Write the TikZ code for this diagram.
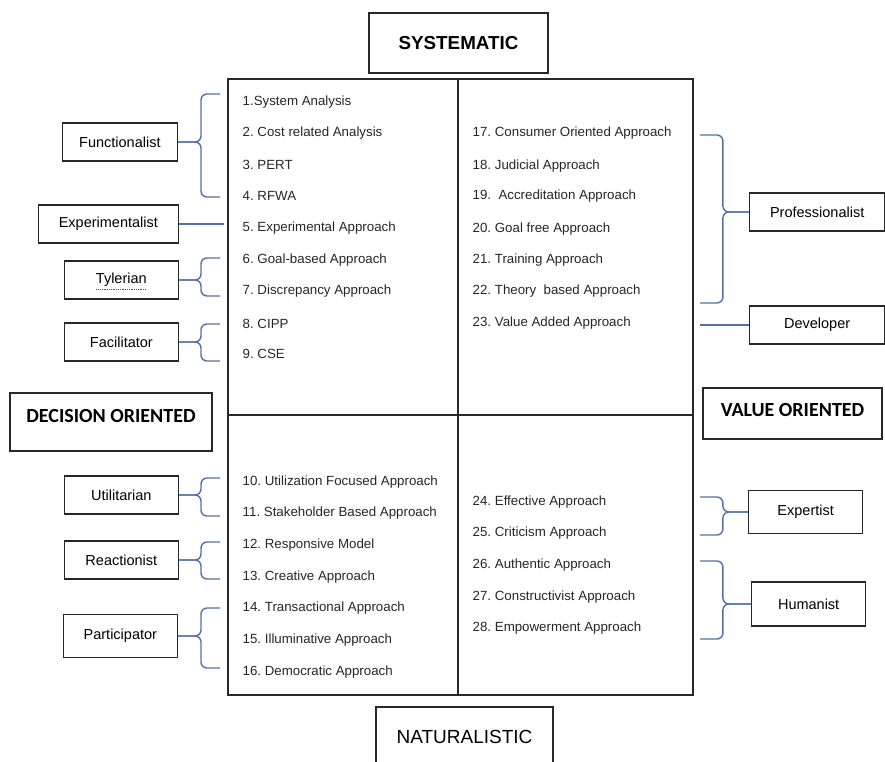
\documentclass[tikz,border=0pt]{standalone}
\usepackage{fontspec}
\setmainfont{Liberation Sans}
\newfontfamily\headfont{Carlito}
\usetikzlibrary{calc}
\definecolor{bracecol}{RGB}{84,112,170}
\definecolor{linecol}{RGB}{40,40,40}
\frenchspacing

\begin{document}
\begin{tikzpicture}[x=1pt, y=-1pt, line width=1.4pt,
  item/.style={anchor=west, inner sep=0pt, text=black!85, font=\fontsize{13.3}{15}\selectfont},
  role/.style={draw=linecol, line width=1.3pt, minimum width=114pt, minimum height=38pt, font=\fontsize{14.5}{17}\selectfont},
  head/.style={draw=linecol, line width=1.3pt, inner sep=0pt},
  cell/.style={draw=linecol, line width=1.8pt, inner sep=0pt},
  brace/.style={draw=bracecol, line width=1.4pt, rounded corners=6pt}]
  \useasboundingbox (0,0) rectangle (885,762);
  \clip (0,0) rectangle (885,762);

  % the four quadrants
  \node[cell, minimum width=230pt, minimum height=336pt] (q1) at (343,247) {};
  \node[cell, minimum width=235pt, minimum height=336pt] (q2) at (575.5,247) {};
  \node[cell, minimum width=230pt, minimum height=280pt] (q3) at (343,555) {};
  \node[cell, minimum width=235pt, minimum height=280pt] (q4) at (575.5,555) {};

  % axis headings
  \node[head, minimum width=179pt, minimum height=60pt, font=\fontsize{18.8}{22}\selectfont\bfseries] (sys) at (458.5,43) {SYSTEMATIC};
  \node[head, minimum width=177pt, minimum height=60pt, font=\fontsize{19}{22}\selectfont] (nat) at (464.5,737) {NATURALISTIC};
  \node[head, minimum width=202pt, minimum height=58pt, text height=13pt, text depth=12pt, font=\headfont\bfseries\fontsize{20}{24}\selectfont] (dec) at (111,422) {DECISION ORIENTED};
  \node[head, minimum width=179pt, minimum height=51pt, text height=13pt, text depth=7pt, font=\headfont\bfseries\fontsize{20}{24}\selectfont] (val) at (792.5,413.5) {VALUE ORIENTED};

  % systematic / decision
  \node[item] (i1) at (242,102) {1.System Analysis};
  \node[item] (i2) at (242,133) {2. Cost related Analysis};
  \node[item] (i3) at (242,165) {3. PERT};
  \node[item] (i4) at (242,196) {4. RFWA};
  \node[item] (i5) at (242,228) {5. Experimental Approach};
  \node[item] (i6) at (242,260) {6. Goal-based Approach};
  \node[item] (i7) at (242,291) {7. Discrepancy Approach};
  \node[item] (i8) at (242,324) {8. CIPP};
  \node[item] (i9) at (242,354) {9. CSE};

  % naturalistic / decision
  \node[item] (i10) at (242,482) {10. Utilization Focused Approach};
  \node[item] (i11) at (242,513) {11. Stakeholder Based Approach};
  \node[item] (i12) at (242,545) {12. Responsive Model};
  \node[item] (i13) at (242,577) {13. Creative Approach};
  \node[item] (i14) at (242,608) {14. Transactional Approach};
  \node[item] (i15) at (242,640) {15. Illuminative Approach};
  \node[item] (i16) at (242,672) {16. Democratic Approach};

  % systematic / value
  \node[item] (i17) at (472,133) {17. Consumer Oriented Approach};
  \node[item] (i18) at (472,166) {18. Judicial Approach};
  \node[item] (i19) at (472,196) {19.~ Accreditation Approach};
  \node[item] (i20) at (472,229) {20. Goal free Approach};
  \node[item] (i21) at (472,260) {21. Training Approach};
  \node[item] (i22) at (472,291) {22. Theory~ based Approach};
  \node[item] (i23) at (472,323) {23. Value Added Approach};

  % naturalistic / value
  \node[item] (i24) at (472,502) {24. Effective Approach};
  \node[item] (i25) at (472,533) {25. Criticism Approach};
  \node[item] (i26) at (472,565) {26. Authentic Approach};
  \node[item] (i27) at (472,597) {27. Constructivist Approach};
  \node[item] (i28) at (472,628) {28. Empowerment Approach};

  % roles, left
  \node[role, anchor=east, minimum width=115pt] (fun) at (178,142) {Functionalist};
  \node[role, anchor=east, minimum width=140pt] (exp) at (179,224) {Experimentalist};
  \node[role, anchor=east] (tyl) at (179,280) {Tylerian};
  \node[role, anchor=east] (fac) at (179,342) {Facilitator};
  \node[role, anchor=east] (uti) at (179,495) {Utilitarian};
  \node[role, anchor=east] (rea) at (179,560) {Reactionist};
  \node[role, anchor=east, minimum height=43pt] (par) at (178,636) {Participator};

  % roles, right
  \node[role, anchor=west, minimum width=135pt] (pro) at (749,212) {Professionalist};
  \node[role, anchor=west, minimum width=135pt] (dev) at (749,325) {Developer};
  \node[role, anchor=west, minimum height=43pt] (ept) at (748,512) {Expertist};
  \node[role, anchor=west, minimum height=44pt] (hum) at (751,604) {Humanist};

  \draw[red, densely dotted, line width=0.8pt] ($(tyl.center)+(-25,9)$) -- ++(50,0);

  % left braces
  \draw[brace] ($(i1.west)+(-22,-8)$) -- ++(-19,0) |- (fun.east);
  \draw[brace] ($(i4.west)+(-22,1)$) -- ++(-19,0) |- (fun.east);
  \draw[brace] (exp.east) -- ($(q1.west |- exp.east)+(-3,0)$);
  \draw[brace] ($(i6.west)+(-22,-2)$) -- ++(-19,0) |- (tyl.east);
  \draw[brace] ($(i7.west)+(-22,5)$) -- ++(-19,0) |- (tyl.east);
  \draw[brace] ($(i8.west)+(-22,0)$) -- ++(-19,0) |- (fac.east);
  \draw[brace] ($(i9.west)+(-22,7)$) -- ++(-19,0) |- (fac.east);
  \draw[brace] ($(i10.west)+(-22,-4)$) -- ++(-19,0) |- (uti.east);
  \draw[brace] ($(i11.west)+(-22,3)$) -- ++(-19,0) |- (uti.east);
  \draw[brace] ($(i12.west)+(-22,-3)$) -- ++(-19,0) |- (rea.east);
  \draw[brace] ($(i13.west)+(-22,2)$) -- ++(-19,0) |- (rea.east);
  \draw[brace] ($(i14.west)+(-22,0)$) -- ++(-19,0) |- (par.east);
  \draw[brace] ($(i16.west)+(-22,-4)$) -- ++(-19,0) |- (par.east);

  % right braces
  \draw[brace] ($(q2.east |- i17.west)+(6,2)$) -- ++(23,0) |- (pro.west);
  \draw[brace] ($(q2.east |- i22.west)+(6,12)$) -- ++(23,0) |- (pro.west);
  \draw[brace] ($(q2.east |- dev.west)+(6,0)$) -- (dev.west);
  \draw[brace] ($(q2.east |- i24.west)+(6,-5)$) -- ++(23,0) |- (ept.west);
  \draw[brace] ($(q2.east |- i25.west)+(6,2)$) -- ++(23,0) |- (ept.west);
  \draw[brace] ($(q2.east |- i26.west)+(6,-4)$) -- ++(23,0) |- (hum.west);
  \draw[brace] ($(q2.east |- i28.west)+(6,11)$) -- ++(23,0) |- (hum.west);
\end{tikzpicture}
\end{document}
